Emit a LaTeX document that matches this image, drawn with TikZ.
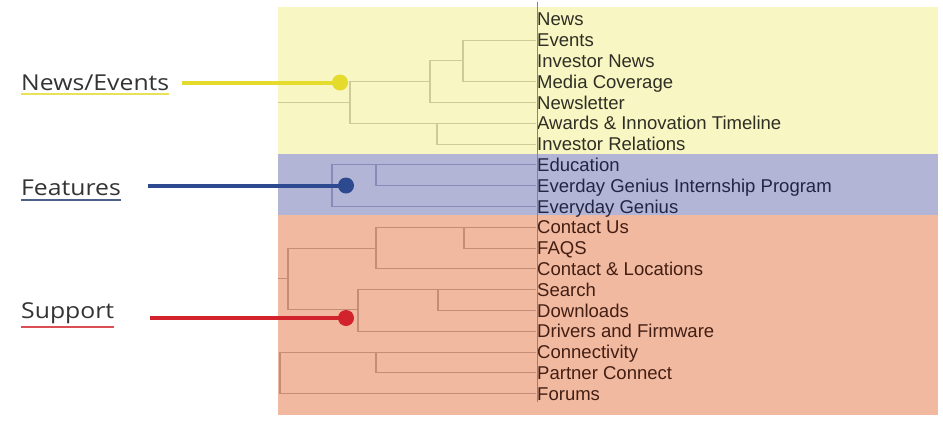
\documentclass[tikz,border=0pt]{standalone}
\usepackage{fontspec}
\setmainfont{Liberation Sans}
\newfontfamily\groupfont{Open Sans}

\definecolor{ybg}{HTML}{F8F6C2}
\definecolor{bbg}{HTML}{B2B5D5}
\definecolor{obg}{HTML}{F0B9A0}
\definecolor{ytree}{HTML}{D0CA96}
\definecolor{btree}{HTML}{878BBA}
\definecolor{otree}{HTML}{C58D77}
\definecolor{ytext}{HTML}{2E2E25}
\definecolor{btext}{HTML}{222543}
\definecolor{otext}{HTML}{441E13}
\definecolor{yline}{HTML}{E4DB2C}
\definecolor{bline}{HTML}{2D4A90}
\definecolor{rline}{HTML}{D2222C}
\definecolor{grouptext}{HTML}{333333}
\definecolor{rulegray}{HTML}{85857A}

\newcommand{\widened}[1]{\scalebox{1.13}[1]{#1}}

\begin{document}
\begin{tikzpicture}[x=1bp,y=-1bp,
  leaf/.style={anchor=west,inner xsep=1bp,inner ysep=0pt,
    text height=13.3bp,text depth=0pt,
    font=\fontsize{18.6}{18.6}\selectfont},
  yleaf/.style={leaf,text=ytext},
  bleaf/.style={leaf,text=btext},
  oleaf/.style={leaf,text=otext},
  branch/.style={line width=1.1bp},
  ybranch/.style={branch,draw=ytree},
  bbranch/.style={branch,draw=btree},
  obranch/.style={branch,draw=otree},
  grouplabel/.style={anchor=base west,inner sep=0pt,text=grouptext,
    font=\groupfont\fontsize{22}{23}\selectfont},
  pointer/.style={line width=4bp},
  dot/.style={circle,inner sep=0pt,minimum size=16bp},
]
\useasboundingbox (0,0) rectangle (943,422);

% coloured bands
\fill[ybg] (278,7) rectangle (938,154);
\fill[bbg] (278,154) rectangle (938,215);
\fill[obg] (278,215) rectangle (938,415);

% page labels
\node[yleaf] (news)       at (536,19.3)  {News};
\node[yleaf] (events)     at (536,40.1)  {Events};
\node[yleaf] (invnews)    at (536,60.9)  {Investor News};
\node[yleaf] (media)      at (536,81.7)  {Media Coverage};
\node[yleaf] (newsletter) at (536,102.5) {Newsletter};
\node[yleaf] (awards)     at (536,123.3) {Awards \& Innovation Timeline};
\node[yleaf] (invrel)     at (536,144.1) {Investor Relations};
\node[bleaf] (education)  at (536,164.9) {Education};
\node[bleaf] (intern)     at (536,185.7) {Everday Genius Internship Program};
\node[bleaf] (egenius)    at (536,206.5) {Everyday Genius};
\node[oleaf] (contact)    at (536,227.3) {Contact Us};
\node[oleaf] (faqs)       at (536,248.1) {FAQS};
\node[oleaf] (locations)  at (536,268.9) {Contact \& Locations};
\node[oleaf] (search)     at (536,289.7) {Search};
\node[oleaf] (downloads)  at (536,310.5) {Downloads};
\node[oleaf] (drivers)    at (536,331.3) {Drivers and Firmware};
\node[oleaf] (connect)    at (536,352.1) {Connectivity};
\node[oleaf] (partner)    at (536,372.9) {Partner Connect};
\node[oleaf] (forums)     at (536,393.7) {Forums};

% rule along the label column
\coordinate (ruletop) at (537,2);
\coordinate (rulebot) at (537,402);
\draw[rulegray,line width=0.9bp] (ruletop) -- (rulebot);

% news / events tree
\coordinate (yA) at (463,60.9);
\coordinate (yB) at (430,81.7);
\coordinate (yC) at (350,102.5);
\coordinate (yD) at (437,133.7);
\coordinate (yroot) at (278,102.5);
\draw[ybranch] (events.west) -| (yA) |- (media.west);
\draw[ybranch] (yA) -| (yB) |- (newsletter.west);
\draw[ybranch] (yB) -| (yC) |- (awards.west);
\draw[ybranch] (yC) -- (yroot);
\draw[ybranch] (yD |- awards.west) |- (invrel.west);

% features tree
\coordinate (bA) at (332,185.7);
\coordinate (bB) at (376,175.3);
\draw[bbranch] (education.west) -| (bA) |- (egenius.west);
\draw[bbranch] (bB |- education.west) |- (intern.west);

% support tree
\coordinate (oA) at (464,237.7);
\coordinate (oB) at (376,248.1);
\coordinate (oC) at (288,278.5);
\coordinate (oD) at (358,309.5);
\coordinate (oE) at (438,300.1);
\coordinate (oF) at (280,372.9);
\coordinate (oG) at (376,362.5);
\coordinate (oroot) at (278,278.5);
\draw[obranch] (oA |- contact.west) |- (faqs.west);
\draw[obranch] (contact.west) -| (oB) |- (locations.west);
\draw[obranch] (oB) -| (oC) |- (oD);
\draw[obranch] (oC) -- (oroot);
\draw[obranch] (search.west) -| (oD) |- (drivers.west);
\draw[obranch] (oE |- search.west) |- (downloads.west);
\draw[obranch] (connect.west) -| (oF) |- (forums.west);
\draw[obranch] (oG |- connect.west) |- (partner.west);

% group labels
\node[grouplabel] (gnews) at (21,90)  {\widened{News/Events}};
\node[grouplabel] (gfeat) at (21,195) {\widened{Features}};
\node[grouplabel] (gsupp) at (21,318) {\widened{Support}};
\draw[yline!80!white,line width=1.3bp]
  ([yshift=-4pt]gnews.base west) -- ([yshift=-4pt]gnews.base east);
\draw[bline!60!gray,line width=1.3bp]
  ([yshift=-5pt]gfeat.base west) -- ([yshift=-5pt]gfeat.base east);
\draw[rline!80!white,line width=1.3bp]
  ([yshift=-9pt]gsupp.base west) -- ([yshift=-9pt]gsupp.base east);

% pointers into the trees
\node[dot,fill=yline] (dnews) at (340,82.5) {};
\node[dot,fill=bline] (dfeat) at (346,185.5) {};
\node[dot,fill=rline] (dsupp) at (346,318) {};
\coordinate (pnews) at (182,82.5);
\coordinate (pfeat) at (148,185.5);
\coordinate (psupp) at (150,318);
\draw[pointer,yline] (pnews) -- (dnews.center);
\draw[pointer,bline] (pfeat) -- (dfeat.center);
\draw[pointer,rline] (psupp) -- (dsupp.center);
\end{tikzpicture}
\end{document}
